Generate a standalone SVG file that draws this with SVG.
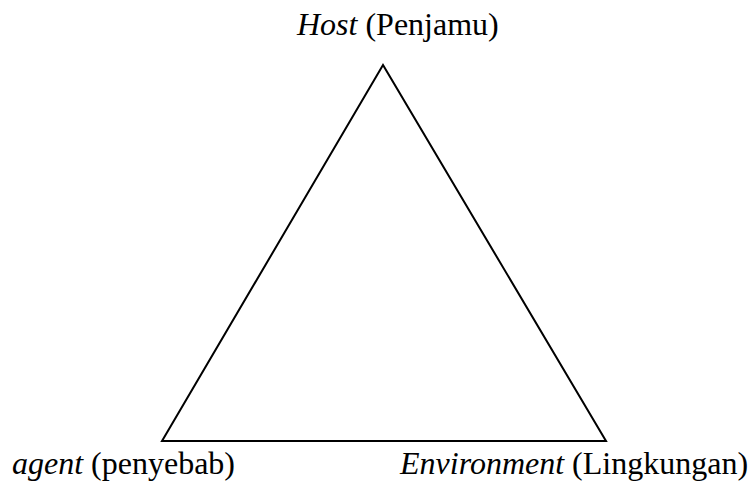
<svg xmlns="http://www.w3.org/2000/svg" width="752" height="485" viewBox="0 0 752 485">
<style>
text{font-family:"Liberation Serif","Times New Roman",serif;font-size:32px;fill:#000}
.i{font-style:italic}
.edge{fill:none;stroke:#000;stroke-width:2}
</style>
<rect width="752" height="485" fill="#fff"/>
<g id="connectors">
<polygon class="edge" points="383,65 162,441 606,441"/>
</g>
<g id="host"><text x="297" y="35"><tspan class="i">Host</tspan> (Penjamu)</text></g>
<g id="agent"><text x="12" y="474"><tspan class="i">agent</tspan> (penyebab)</text></g>
<g id="environment"><text x="400" y="474"><tspan class="i">Environment</tspan> (Lingkungan)</text></g>
</svg>
